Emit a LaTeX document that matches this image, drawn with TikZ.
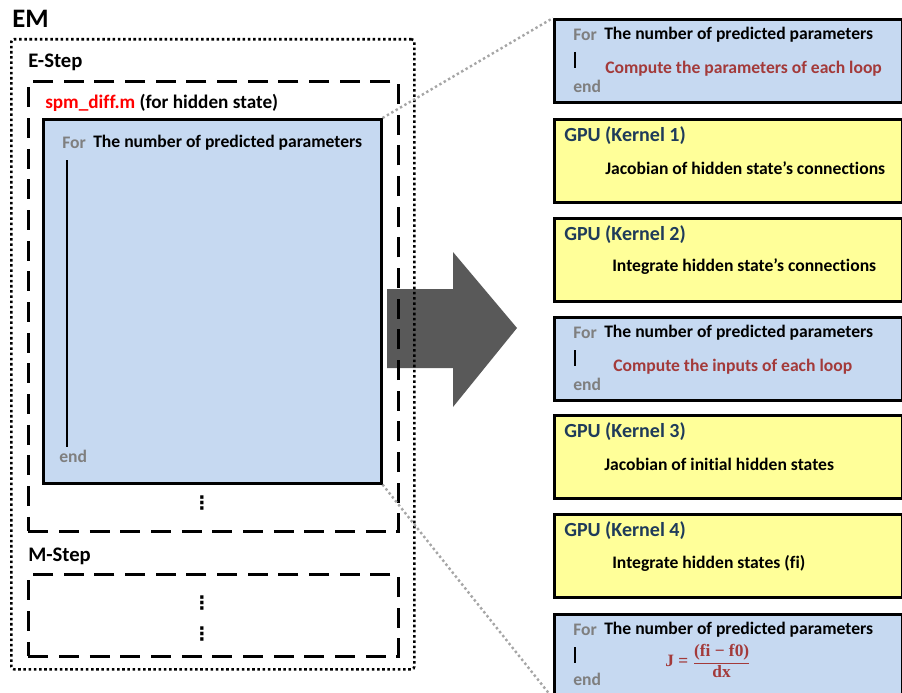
\documentclass[tikz,border=0pt]{standalone}
\usepackage{amsmath}
\usepackage{fontspec}
\setmainfont{Carlito}[Ligatures=CommonOff]
\newfontfamily\jfont{Liberation Serif}[Ligatures=CommonOff]
\newfontfamily\dotfont{DejaVu Sans}
\usepackage{tikz}
\usetikzlibrary{calc,positioning}
\definecolor{loopblue}{HTML}{C6D9F1}
\definecolor{gpuyellow}{HTML}{FFFF99}
\definecolor{forgray}{HTML}{7F7F7F}
\definecolor{looptext}{HTML}{A33A3A}
\definecolor{gputext}{HTML}{1F3B5A}
\definecolor{arrowgray}{HTML}{595959}
\tikzstyle{frame} = [anchor=north west, inner sep=0pt, line width=1.9pt]
\tikzstyle{loopbox} = [frame, draw=black, fill=loopblue, minimum width=261pt, minimum height=62.25pt]
\tikzstyle{gpubox} = [loopbox, fill=gpuyellow]
\tikzstyle{stepbox} = [frame, draw=black, dash pattern=on 15pt off 8pt, line width=2.2pt]
\tikzstyle{zoomline} = [draw=gray!70, line width=1.8pt, dotted]
\tikzstyle{txt} = [anchor=west, inner sep=0pt, font=\bfseries\fontsize{13.2}{15}\selectfont]
\tikzstyle{fortxt} = [txt, text=forgray]
\tikzstyle{gputxt} = [txt, text=gputext, font=\bfseries\fontsize{15}{17}\selectfont]
\tikzstyle{redtxt} = [txt, text=looptext]
\tikzstyle{steptxt} = [txt, font=\bfseries\fontsize{15.5}{17}\selectfont]
\tikzstyle{dots} = [anchor=center, inner sep=0pt, font=\dotfont\bfseries\fontsize{14}{14}\selectfont]
\newcommand{\jformula}{{\jfont\bfseries J =\ }$\dfrac{\text{\jfont\bfseries (fi − f0)}}{\text{\jfont\bfseries dx}}$}

\begin{document}
\begin{tikzpicture}[x=0.75pt,y=-0.75pt]
\useasboundingbox (0,0) rectangle (902,692);
\clip (0,0) rectangle (902,692);
% big arrow
\fill[arrowgray] (387,289) -- (453,289) -- (453,252) -- (517,328) -- (453,407) -- (453,368) -- (387,368) -- cycle;

% left side: EM
\node[txt, font=\bfseries\fontsize{20}{22}\selectfont] (emlabel) at (12,19) {EM};
\node[frame, draw=black, dotted, rounded corners=2pt, minimum width=302.25pt, minimum height=472.5pt] (emframe) at (10,38) {};
\node[steptxt] (elabel) at (28,62) {E-Step};
\node[stepbox, minimum width=277.5pt, minimum height=337.5pt] (estep) at (27,80) {};
\node[txt, font=\bfseries\fontsize{14.4}{16}\selectfont] (difflabel) at (45,103) {\textcolor{red}{spm\_diff.m} (for hidden state)};
\node[loopbox, minimum width=253.5pt, minimum height=273pt] (leftloop) at (42,118) {};
\node[fortxt] (lfor) at ($(leftloop.north west)+(20,25)$) {For};
\node[txt] (lnum) at ($(leftloop.north west)+(51,25)$) {The number of predicted parameters};
\node[fortxt] (lend) at ($(leftloop.north west)+(17,338)$) {end};
\draw[line width=1.5pt] ($(leftloop.north west)+(25,42)$) -- ($(leftloop.north west)+(25,329)$);
\node[dots] (edots) at (202,503) {⋮};
\node[steptxt] (mlabel) at (28,556) {M-Step};
\node[stepbox, minimum width=277.5pt, minimum height=61.5pt] (mstep) at (27,573) {};
\node[dots] (mdotsa) at (202,603) {⋮};
\node[dots] (mdotsb) at (202,634) {⋮};

% right side: loops and kernels
\node[loopbox] (loopA) at (553,18) {};
\node[fortxt] (aforA) at ($(loopA.north west)+(20,17)$) {For};
\node[txt] (anum) at ($(loopA.north west)+(51,17)$) {The number of predicted parameters};
\draw[line width=2pt] ($(loopA.north west)+(22,34)$) -- ($(loopA.north west)+(22,50)$);
\node[fortxt] (aend) at ($(loopA.north west)+(20,68)$) {end};
\node[redtxt] (ajob) at ($(loopA.north west)+(52,51)$) {Compute the parameters of each loop};

\node[gpubox] (kernA) at (553,118) {};
\node[gputxt] (kA) at ($(kernA.north west)+(11,18)$) {GPU (Kernel 1)};
\node[txt] (kAjob) at ($(kernA.north west)+(52,50)$) {Jacobian of hidden state’s connections};

\node[gpubox] (kernB) at (553,217) {};
\node[gputxt] (kB) at ($(kernB.north west)+(11,18)$) {GPU (Kernel 2)};
\node[txt] (kBjob) at ($(kernB.north west)+(59,50)$) {Integrate hidden state’s connections};

\node[loopbox] (loopB) at (553,316) {};
\node[fortxt] (bfor) at ($(loopB.north west)+(20,17)$) {For};
\node[txt] (bnum) at ($(loopB.north west)+(51,17)$) {The number of predicted parameters};
\draw[line width=2pt] ($(loopB.north west)+(22,34)$) -- ($(loopB.north west)+(22,50)$);
\node[fortxt] (bend) at ($(loopB.north west)+(20,68)$) {end};
\node[redtxt] (bjob) at ($(loopB.north west)+(60,51)$) {Compute the inputs of each loop};

\node[gpubox] (kernC) at (553,414) {};
\node[gputxt] (kC) at ($(kernC.north west)+(11,18)$) {GPU (Kernel 3)};
\node[txt] (kCjob) at ($(kernC.north west)+(51,50)$) {Jacobian of initial hidden states};

\node[gpubox] (kernD) at (553,513) {};
\node[gputxt] (kD) at ($(kernD.north west)+(11,18)$) {GPU (Kernel 4)};
\node[txt] (kDjob) at ($(kernD.north west)+(59,50)$) {Integrate hidden states (fi)};

\node[loopbox] (loopC) at (553,613) {};
\node[fortxt] (cfor) at ($(loopC.north west)+(20,17)$) {For};
\node[txt] (cnum) at ($(loopC.north west)+(51,17)$) {The number of predicted parameters};
\draw[line width=2pt] ($(loopC.north west)+(22,34)$) -- ($(loopC.north west)+(22,50)$);
\node[fortxt] (cend) at ($(loopC.north west)+(20,66)$) {end};
\node[txt, text=looptext, anchor=west, font=\fontsize{13}{15}\selectfont] (cjob) at ($(loopC.north west)+(112,48)$) {\jformula};

% zoom lines
\draw[zoomline] (leftloop.north east) -- (loopA.north west);
\draw[zoomline] (leftloop.south east) -- (loopC.south west);
\end{tikzpicture}
\end{document}
